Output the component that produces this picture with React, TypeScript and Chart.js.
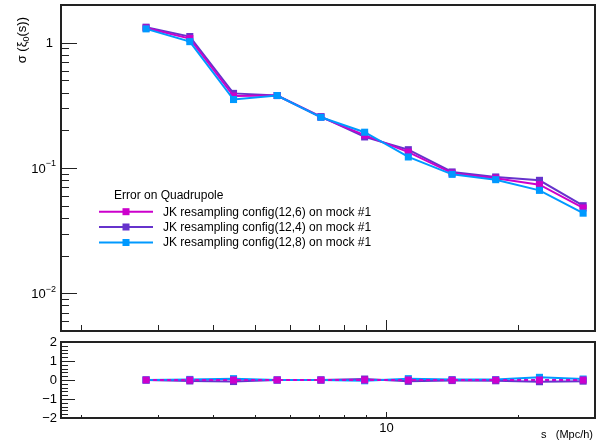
import React, { useEffect, useRef } from 'react';
import { Chart, registerables } from 'chart.js';

Chart.register(...registerables);

// ---------- data ----------
const sBins = [2.818, 3.548, 4.467, 5.623, 7.079, 8.913, 11.22, 14.13, 17.78, 22.39, 28.18];
const errConfig126 = [1.31, 1.08, 0.375, 0.379, 0.255, 0.183, 0.134, 0.091, 0.083, 0.0736, 0.048];
const errConfig124 = [1.33, 1.12, 0.394, 0.379, 0.257, 0.177, 0.14, 0.093, 0.0848, 0.0797, 0.05];
const errConfig128 = [1.29, 1.02, 0.352, 0.379, 0.254, 0.193, 0.1225, 0.089, 0.0807, 0.0663, 0.0436];
const diffConfig126 = [0, 0, 0, 0, 0, 0, 0, 0, 0, 0, 0];
const diffConfig124 = [0, -0.05, -0.08, 0, 0, 0.05, -0.07, -0.03, -0.04, -0.09, -0.06];
const diffConfig128 = [0, 0.03, 0.07, 0, 0, -0.04, 0.07, 0.02, 0.02, 0.14, 0.05];

const seriesLabels = [
  'JK resampling config(12,6) on mock #1',
  'JK resampling config(12,4) on mock #1',
  'JK resampling config(12,8) on mock #1',
];
const seriesColors = ['#cc00cc', '#6633cc', '#0099ff'];
const legendTitle = 'Error on Quadrupole';

const xMajorTicks = [10];
const xMajorLabels = ['10'];
const xMinorTicks = [2, 3, 4, 5, 6, 7, 8, 9, 20];
const xAxisTitle = 's   (Mpc/h)';

const yMainMajor = [1, 0.1, 0.01];
const yMainBase = ['1', '10', '10'];
const yMainExp = ['', '−1', '−2'];
const yRatioMajor = [2, 1, 0, -1, -2];
const yRatioLabels = ['2', '1', '0', '−1', '−2'];

const FONT = "'Liberation Sans', Arial, Helvetica, sans-serif";
const FRAME = '#222';

function pts(vals: number[]) {
  return sBins.map((s, i) => ({ x: s, y: vals[i] }));
}

function drawFrame(ctx: CanvasRenderingContext2D, a: any) {
  ctx.strokeStyle = FRAME;
  ctx.lineWidth = 2;
  ctx.strokeRect(a.left, a.top, a.right - a.left, a.bottom - a.top);
}

function hLine(ctx: CanvasRenderingContext2D, x0: number, x1: number, y: number) {
  ctx.beginPath();
  ctx.moveTo(x0, Math.round(y) + 0.5);
  ctx.lineTo(x1, Math.round(y) + 0.5);
  ctx.stroke();
}
function vLine(ctx: CanvasRenderingContext2D, x: number, y0: number, y1: number) {
  ctx.beginPath();
  ctx.moveTo(Math.round(x) + 0.5, y0);
  ctx.lineTo(Math.round(x) + 0.5, y1);
  ctx.stroke();
}

const mainPlugin = {
  id: 'mainDecor',
  afterDraw(chart: any) {
    const { ctx, chartArea: a, scales } = chart;
    const x = scales.x;
    const y = scales.y;
    ctx.save();
    drawFrame(ctx, a);
    ctx.strokeStyle = FRAME;
    ctx.lineWidth = 1;
    // y minor ticks
    for (let k = -3; k <= 0; k++) {
      for (let m = 2; m <= 9; m++) {
        const v = m * Math.pow(10, k);
        if (v < y.min || v > y.max) continue;
        hLine(ctx, a.left, a.left + 8, y.getPixelForValue(v));
      }
    }
    yMainMajor.forEach((v, i) => {
      const py = y.getPixelForValue(v);
      hLine(ctx, a.left, a.left + 16, py);
      const right = 56;
      ctx.fillStyle = '#000';
      ctx.textBaseline = 'middle';
      if (yMainExp[i]) {
        ctx.font = `9px ${FONT}`;
        const ew = ctx.measureText(yMainExp[i]).width;
        ctx.textAlign = 'right';
        ctx.fillText(yMainExp[i], right, py - 4);
        ctx.font = `13px ${FONT}`;
        ctx.fillText(yMainBase[i], right - ew, py + 1.5);
      } else {
        ctx.font = `13px ${FONT}`;
        ctx.textAlign = 'right';
        ctx.fillText(yMainBase[i], right - 3, py + 0.5);
      }
    });
    // x ticks
    xMinorTicks.forEach((v) => vLine(ctx, x.getPixelForValue(v), a.bottom, a.bottom - 6));
    xMajorTicks.forEach((v) => vLine(ctx, x.getPixelForValue(v), a.bottom, a.bottom - 11));

    // y title
    ctx.save();
    ctx.fillStyle = '#000';
    ctx.textBaseline = 'alphabetic';
    ctx.textAlign = 'left';
    const p1 = 'σ (ξ';
    const p2 = '0';
    const p3 = '(s))';
    ctx.font = `13px ${FONT}`;
    const w1 = ctx.measureText(p1).width;
    const w3 = ctx.measureText(p3).width;
    ctx.font = `9px ${FONT}`;
    const w2 = ctx.measureText(p2).width;
    const total = w1 + w2 + w3;
    ctx.translate(26, 17 + total);
    ctx.rotate(-Math.PI / 2);
    ctx.font = `13px ${FONT}`;
    ctx.fillText(p1, 0, 0);
    ctx.font = `9px ${FONT}`;
    ctx.fillText(p2, w1, 3);
    ctx.font = `13px ${FONT}`;
    ctx.fillText(p3, w1 + w2, 0);
    ctx.restore();

    // legend
    ctx.fillStyle = '#000';
    ctx.font = `12px ${FONT}`;
    ctx.textAlign = 'left';
    ctx.textBaseline = 'middle';
    ctx.fillText(legendTitle, 114, 196);
    const rows = [211.7, 227, 242.5];
    seriesLabels.forEach((lab, i) => {
      const ly = rows[i];
      ctx.strokeStyle = seriesColors[i];
      ctx.lineWidth = 2;
      ctx.beginPath();
      ctx.moveTo(99, ly);
      ctx.lineTo(153, ly);
      ctx.stroke();
      ctx.fillStyle = seriesColors[i];
      ctx.fillRect(122.5, ly - 3.5, 7, 7);
      ctx.fillStyle = '#000';
      ctx.fillText(lab, 163, ly + 0.5);
    });
    ctx.restore();
  },
};

const ratioPlugin = {
  id: 'ratioDecor',
  afterDraw(chart: any) {
    const { ctx, chartArea: a, scales } = chart;
    const x = scales.x;
    const y = scales.y;
    ctx.save();
    drawFrame(ctx, a);
    ctx.strokeStyle = FRAME;
    ctx.lineWidth = 1;
    for (let v = -2; v <= 2.0001; v += 0.2) {
      hLine(ctx, a.left, a.left + 7, y.getPixelForValue(v));
    }
    ctx.fillStyle = '#000';
    ctx.font = `13px ${FONT}`;
    ctx.textAlign = 'right';
    ctx.textBaseline = 'middle';
    yRatioMajor.forEach((v, i) => {
      const py = y.getPixelForValue(v);
      hLine(ctx, a.left, a.left + 14, py);
      ctx.fillText(yRatioLabels[i], 57, py + 0.5);
    });
    xMinorTicks.forEach((v) => vLine(ctx, x.getPixelForValue(v), a.bottom, a.bottom - 3));
    ctx.textAlign = 'center';
    xMajorTicks.forEach((v, i) => {
      const px = x.getPixelForValue(v);
      vLine(ctx, px, a.bottom, a.bottom - 6);
      ctx.fillText(xMajorLabels[i], px, 428);
    });
    ctx.font = `11px ${FONT}`;
    ctx.textAlign = 'right';
    ctx.fillText(xAxisTitle, 593, 435);
    ctx.restore();
  },
};

const xScale = { type: 'logarithmic', min: 1.8, max: 30, display: false };

export default function App() {
  const mainRef = useRef<HTMLCanvasElement>(null);
  const ratioRef = useRef<HTMLCanvasElement>(null);

  useEffect(() => {
    document.body.style.margin = '0';
    const main = new Chart(mainRef.current as HTMLCanvasElement, {
      type: 'line',
      data: {
        datasets: [
          { label: seriesLabels[0], data: pts(errConfig126), borderColor: seriesColors[0], backgroundColor: seriesColors[0], order: 1 },
          { label: seriesLabels[1], data: pts(errConfig124), borderColor: seriesColors[1], backgroundColor: seriesColors[1], order: 2 },
          { label: seriesLabels[2], data: pts(errConfig128), borderColor: seriesColors[2], backgroundColor: seriesColors[2], order: 0 },
        ].map((d) => ({ ...d, borderWidth: 2, pointStyle: 'rect', pointRadius: 5, pointBorderWidth: 0, tension: 0 })),
      },
      options: {
        animation: false,
        responsive: false,
        events: [],
        layout: { padding: { left: 61, right: 11, top: 5, bottom: 110 } },
        scales: {
          x: xScale as any,
          y: { type: 'logarithmic', min: 0.005, max: 2, display: false },
        },
        plugins: { legend: { display: false }, tooltip: { enabled: false } },
      },
      plugins: [mainPlugin],
    } as any);

    const ratio = new Chart(ratioRef.current as HTMLCanvasElement, {
      type: 'line',
      data: {
        datasets: [
          { label: seriesLabels[0], data: pts(diffConfig126), borderColor: seriesColors[0], backgroundColor: seriesColors[0], order: 0, borderDash: [4, 3] },
          { label: seriesLabels[1], data: pts(diffConfig124), borderColor: seriesColors[1], backgroundColor: seriesColors[1], order: 2 },
          { label: seriesLabels[2], data: pts(diffConfig128), borderColor: seriesColors[2], backgroundColor: seriesColors[2], order: 1 },
        ].map((d) => ({ ...d, borderWidth: 2, pointStyle: 'rect', pointRadius: 5, pointBorderWidth: 0, tension: 0 })),
      },
      options: {
        animation: false,
        responsive: false,
        events: [],
        layout: { padding: { left: 61, right: 11, top: 342, bottom: 23 } },
        scales: {
          x: xScale as any,
          y: { type: 'linear', min: -2, max: 2, display: false },
        },
        plugins: { legend: { display: false }, tooltip: { enabled: false } },
      },
      plugins: [ratioPlugin],
    } as any);

    return () => {
      main.destroy();
      ratio.destroy();
    };
  }, []);

  return (
    <div style={{ position: 'relative', width: 606, height: 441, background: '#fff' }}>
      <canvas ref={mainRef} width={606} height={441} style={{ position: 'absolute', left: 0, top: 0, display: 'block' }} />
      <canvas ref={ratioRef} width={606} height={441} style={{ position: 'absolute', left: 0, top: 0, display: 'block' }} />
    </div>
  );
}
